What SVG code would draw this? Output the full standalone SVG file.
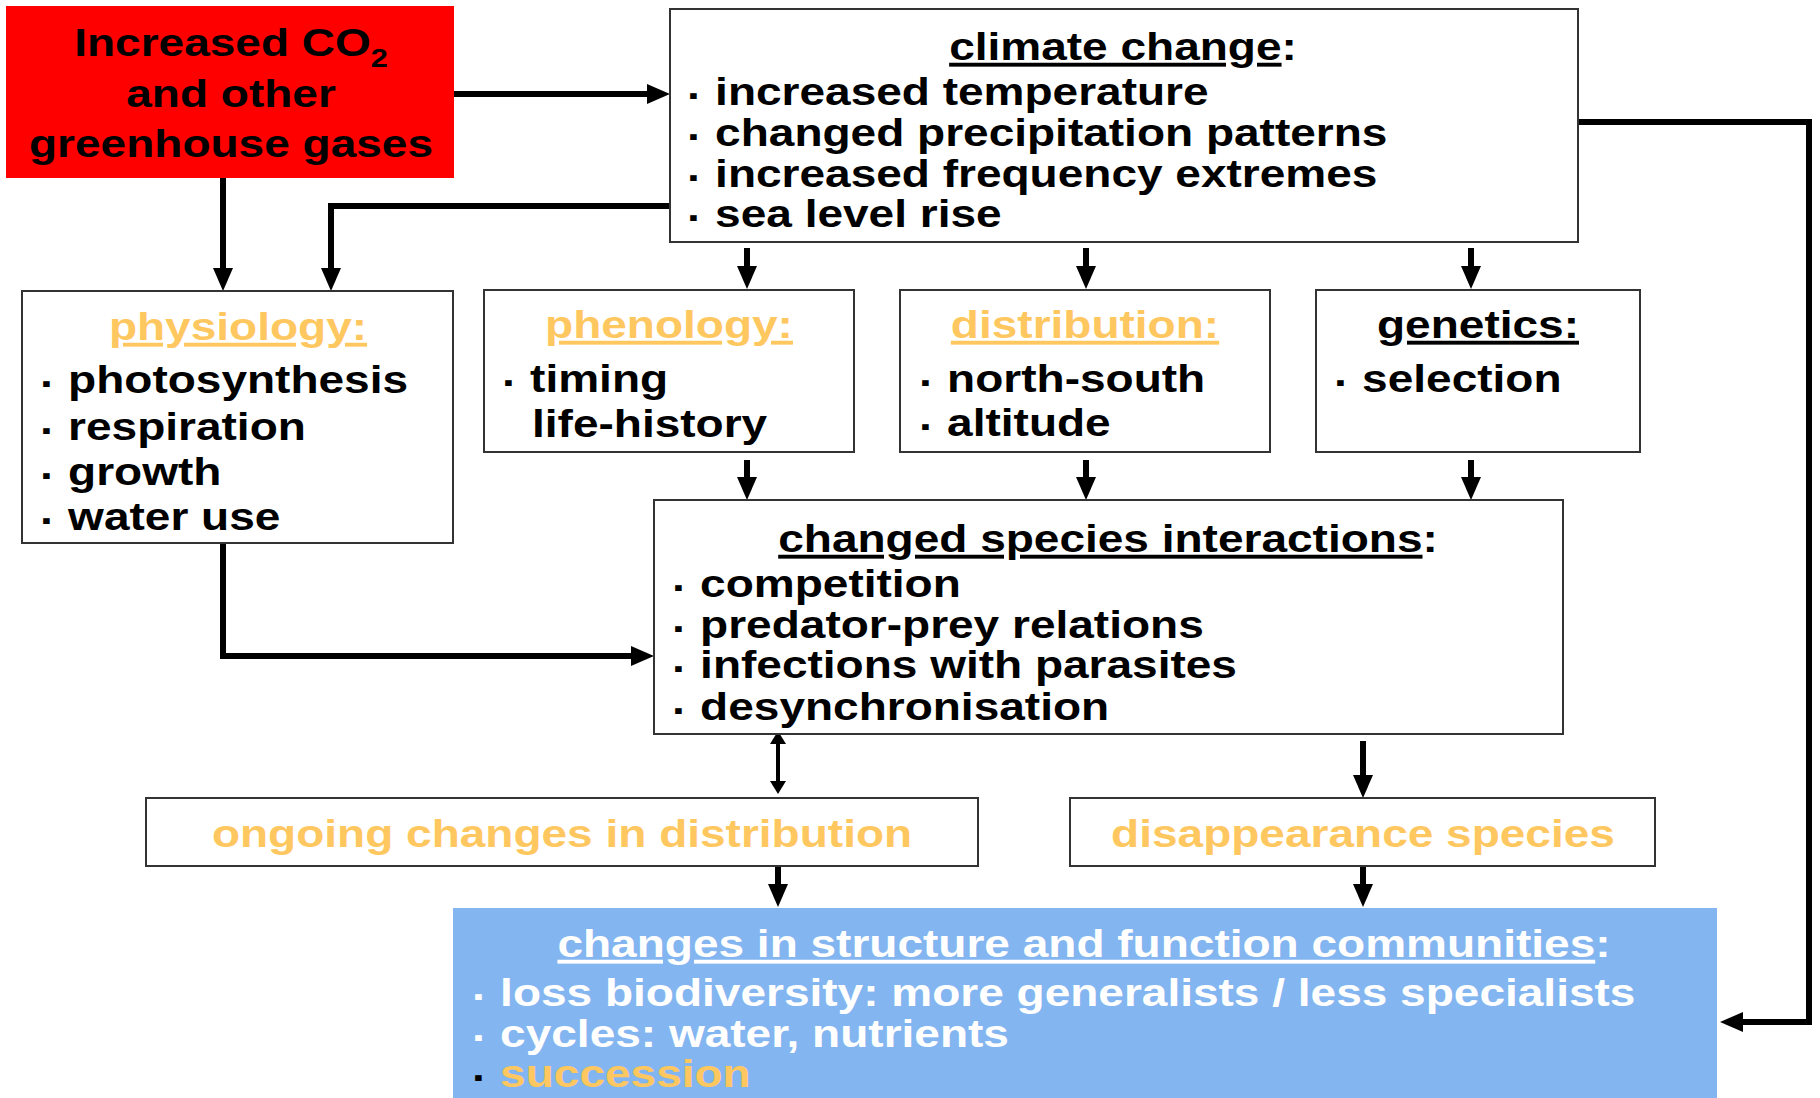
<svg xmlns="http://www.w3.org/2000/svg" width="1820" height="1098" viewBox="0 0 1820 1098">
<style>
.t{font-family:"Liberation Sans",Arial,Helvetica,sans-serif;font-weight:bold;font-size:39px;fill:#000}
.c{text-anchor:middle}
.u{text-decoration:underline}
.o{fill:#FFC75F}
.w{fill:#fff}
.box{fill:#fff;stroke:#333;stroke-width:2}
.con{fill:none;stroke:#000;stroke-width:6;marker-end:url(#ah)}
.dbl{fill:none;stroke:#000;stroke-width:4;marker-end:url(#ahs);marker-start:url(#ahs)}
</style>
<defs>
<marker id="ah" markerUnits="userSpaceOnUse" markerWidth="24" markerHeight="22" refX="1" refY="10" orient="auto"><path d="M0,0 L23,10 L0,20 z" fill="#000"/></marker>
<marker id="ahs" markerUnits="userSpaceOnUse" markerWidth="14" markerHeight="18" refX="1" refY="8" orient="auto-start-reverse"><path d="M0,0 L13,8 L0,16 z" fill="#000"/></marker>
</defs>
<rect width="1820" height="1098" fill="#fff"/>

<g id="connectors">
<path class="con" d="M454,94 H648"/>
<path class="con" d="M223,178 V269"/>
<path class="con" d="M670,206 H331 V269"/>
<path class="con" d="M747,248 V267"/>
<path class="con" d="M1086,248 V267"/>
<path class="con" d="M1471,248 V267"/>
<path class="con" d="M747,460 V478"/>
<path class="con" d="M1086,460 V478"/>
<path class="con" d="M1471,460 V478"/>
<path class="con" d="M223,543 V656 H632"/>
<path class="dbl" d="M778,743 V782"/>
<path class="con" d="M1363,741 V776"/>
<path class="con" d="M778,866 V885"/>
<path class="con" d="M1363,866 V885"/>
<path class="con" d="M1578,122 H1809 V1022 H1742"/>
</g>

<g id="greenhouse">
<rect x="6" y="6" width="448" height="172" fill="#FF0000"/>
<text class="t c" transform="translate(231,56) scale(1.18,1)">Increased CO<tspan font-size="26" dy="11">2</tspan></text>
<text class="t c" transform="translate(231,107) scale(1.18,1)">and other</text>
<text class="t c" transform="translate(231,157) scale(1.18,1)">greenhouse gases</text>
</g>

<g id="climate">
<rect class="box" x="670" y="9" width="908" height="233"/>
<text class="t c" transform="translate(1123,60) scale(1.18,1)"><tspan class="u">climate change</tspan>:</text>
<text class="t" transform="translate(687,105) scale(1.18,1)"><tspan dy="4">·</tspan><tspan dy="-4"> increased temperature</tspan></text>
<text class="t" transform="translate(687,146) scale(1.18,1)"><tspan dy="4">·</tspan><tspan dy="-4"> changed precipitation patterns</tspan></text>
<text class="t" transform="translate(687,187) scale(1.18,1)"><tspan dy="4">·</tspan><tspan dy="-4"> increased frequency extremes</tspan></text>
<text class="t" transform="translate(687,227) scale(1.18,1)"><tspan dy="4">·</tspan><tspan dy="-4"> sea level rise</tspan></text>
</g>

<g id="physiology">
<rect class="box" x="22" y="291" width="431" height="252"/>
<text class="t c o u" transform="translate(238,340) scale(1.18,1)">physiology:</text>
<text class="t" transform="translate(40,393) scale(1.18,1)"><tspan dy="4">·</tspan><tspan dy="-4"> photosynthesis</tspan></text>
<text class="t" transform="translate(40,440) scale(1.18,1)"><tspan dy="4">·</tspan><tspan dy="-4"> respiration</tspan></text>
<text class="t" transform="translate(40,485) scale(1.18,1)"><tspan dy="4">·</tspan><tspan dy="-4"> growth</tspan></text>
<text class="t" transform="translate(40,530) scale(1.18,1)"><tspan dy="4">·</tspan><tspan dy="-4"> water use</tspan></text>
</g>

<g id="phenology">
<rect class="box" x="484" y="290" width="370" height="162"/>
<text class="t c o u" transform="translate(669,338) scale(1.18,1)">phenology:</text>
<text class="t" transform="translate(502,392) scale(1.18,1)"><tspan dy="4">·</tspan><tspan dy="-4"> timing</tspan></text>
<text class="t" transform="translate(532,437) scale(1.18,1)">life-history</text>
</g>

<g id="distribution">
<rect class="box" x="900" y="290" width="370" height="162"/>
<text class="t c o u" transform="translate(1085,338) scale(1.18,1)">distribution:</text>
<text class="t" transform="translate(919,392) scale(1.18,1)"><tspan dy="4">·</tspan><tspan dy="-4"> north-south</tspan></text>
<text class="t" transform="translate(919,436) scale(1.18,1)"><tspan dy="4">·</tspan><tspan dy="-4"> altitude</tspan></text>
</g>

<g id="genetics">
<rect class="box" x="1316" y="290" width="324" height="162"/>
<text class="t c u" transform="translate(1478,338) scale(1.18,1)">genetics:</text>
<text class="t" transform="translate(1334,392) scale(1.18,1)"><tspan dy="4">·</tspan><tspan dy="-4"> selection</tspan></text>
</g>

<g id="interactions">
<rect class="box" x="654" y="500" width="909" height="234"/>
<text class="t c" transform="translate(1108,552) scale(1.18,1)"><tspan class="u">changed species interactions</tspan>:</text>
<text class="t" transform="translate(672,597) scale(1.18,1)"><tspan dy="4">·</tspan><tspan dy="-4"> competition</tspan></text>
<text class="t" transform="translate(672,638) scale(1.18,1)"><tspan dy="4">·</tspan><tspan dy="-4"> predator-prey relations</tspan></text>
<text class="t" transform="translate(672,678) scale(1.18,1)"><tspan dy="4">·</tspan><tspan dy="-4"> infections with parasites</tspan></text>
<text class="t" transform="translate(672,720) scale(1.18,1)"><tspan dy="4">·</tspan><tspan dy="-4"> desynchronisation</tspan></text>
</g>

<g id="ongoing">
<rect class="box" x="146" y="798" width="832" height="68"/>
<text class="t c o" transform="translate(562,847) scale(1.18,1)">ongoing changes in distribution</text>
</g>

<g id="disappearance">
<rect class="box" x="1070" y="798" width="585" height="68"/>
<text class="t c o" transform="translate(1363,847) scale(1.18,1)">disappearance species</text>
</g>

<g id="communities">
<rect x="453" y="908" width="1264" height="190" fill="#83B5F0"/>
<text class="t c w" transform="translate(1084,957) scale(1.18,1)"><tspan class="u">changes in structure and function communities</tspan>:</text>
<text class="t w" transform="translate(472,1006) scale(1.18,1)"><tspan dy="4">·</tspan><tspan dy="-4"> loss biodiversity: more generalists / less specialists</tspan></text>
<text class="t w" transform="translate(472,1047) scale(1.18,1)"><tspan dy="4">·</tspan><tspan dy="-4"> cycles: water, nutrients</tspan></text>
<text class="t" transform="translate(472,1087) scale(1.18,1)"><tspan dy="4">·</tspan><tspan dy="-4" class="o"> succession</tspan></text>
</g>
</svg>
